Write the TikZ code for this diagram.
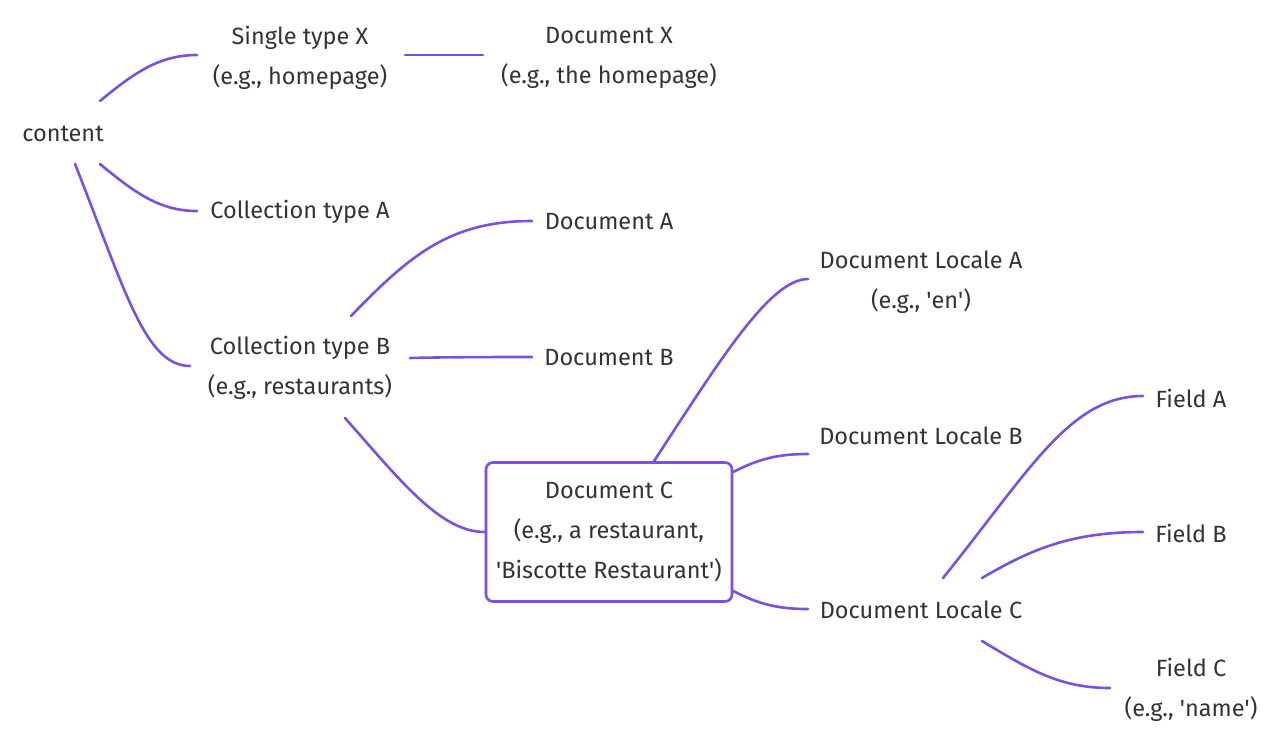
\documentclass[tikz,border=0pt]{standalone}
\usepackage{fontspec}
\setmainfont{Fira Sans}
\definecolor{edgec}{HTML}{7B4FE0}
\definecolor{txt}{HTML}{333333}
\newcommand{\sq}{\textquotesingle}
\begin{document}
\begin{tikzpicture}[x=1pt,y=-1pt,
  lbl/.style={text=txt,font=\fontsize{23.5}{40}\selectfont,align=center,inner sep=0pt},
  edge/.style={draw=edgec,line width=2.6pt,line cap=round},
  boxed/.style={lbl,draw=edgec,line width=2.6pt,rounded corners=7pt,fill=white,minimum width=246pt,minimum height=139pt}]
\useasboundingbox (0,0) rectangle (1285,737);
\node[lbl] (content) at (63,134) {content};
\node[lbl] (sx) at (300,58) {Single type X\\(e.g., homepage)};
\node[lbl] (dx) at (609,58) {Document X\\(e.g., the homepage)};
\node[lbl] (ca) at (300,212) {Collection type A};
\node[lbl] (cb) at (300,368) {Collection type B\\(e.g., restaurants)};
\node[lbl] (da) at (609,222) {Document A};
\node[lbl] (db) at (609,358) {Document B};
\node[boxed] (dc) at (609,532) {Document C\\(e.g., a restaurant,\\\sq Biscotte Restaurant\sq)};
\node[lbl] (la) at (921,282) {Document Locale A\\(e.g., \sq en\sq)};
\node[lbl] (lb) at (921,436) {Document Locale B};
\node[lbl] (lc) at (921,610) {Document Locale C};
\node[lbl] (fa) at (1191,398) {Field A};
\node[lbl] (fb) at (1191,533) {Field B};
\node[lbl] (fc) at (1191,690) {Field C\\(e.g., \sq name\sq)};

\draw[edge] ([shift={(37,-33)}]content.center) .. controls (135,72) and (160,55) .. ([shift={(-103,-3)}]sx.center);
\draw[edge] ([shift={(105,-3)}]sx.center) -- ([shift={(-126,-3)}]dx.center);
\draw[edge] ([shift={(37,30)}]content.center) .. controls (135,193) and (160,211) .. ([shift={(-103,-1)}]ca.center);
\draw[edge] ([shift={(12,30)}]content.center) .. controls (125,290) and (145,366) .. ([shift={(-110,-2)}]cb.center);
\draw[edge] ([shift={(51,-52)}]cb.center) .. controls (410,255) and (450,221) .. ([shift={(-77,-1)}]da.center);
\draw[edge] ([shift={(110,-10)}]cb.center) .. controls (450,357) and (500,357) .. ([shift={(-77,-1)}]db.center);
\draw[edge] ([shift={(45,50)}]cb.center) .. controls (400,480) and (440,532) .. (dc.west);
\draw[edge] ([shift={(45,0)}]dc.north) .. controls (720,360) and (770,279) .. ([shift={(-113,-3)}]la.center);
\draw[edge] ([shift={(0,-60)}]dc.east) .. controls (760,458) and (780,454) .. ([shift={(-113,18)}]lb.center);
\draw[edge] ([shift={(0,59)}]dc.east) .. controls (760,605) and (780,609) .. ([shift={(-113,-1)}]lc.center);
\draw[edge] ([shift={(22,-32)}]lc.center) .. controls (1030,470) and (1070,396) .. ([shift={(-48,-2)}]fa.center);
\draw[edge] ([shift={(61,-32)}]lc.center) .. controls (1030,550) and (1070,532) .. ([shift={(-48,-1)}]fb.center);
\draw[edge] ([shift={(61,31)}]lc.center) .. controls (1030,670) and (1060,688) .. ([shift={(-81,-2)}]fc.center);
\end{tikzpicture}
\end{document}
